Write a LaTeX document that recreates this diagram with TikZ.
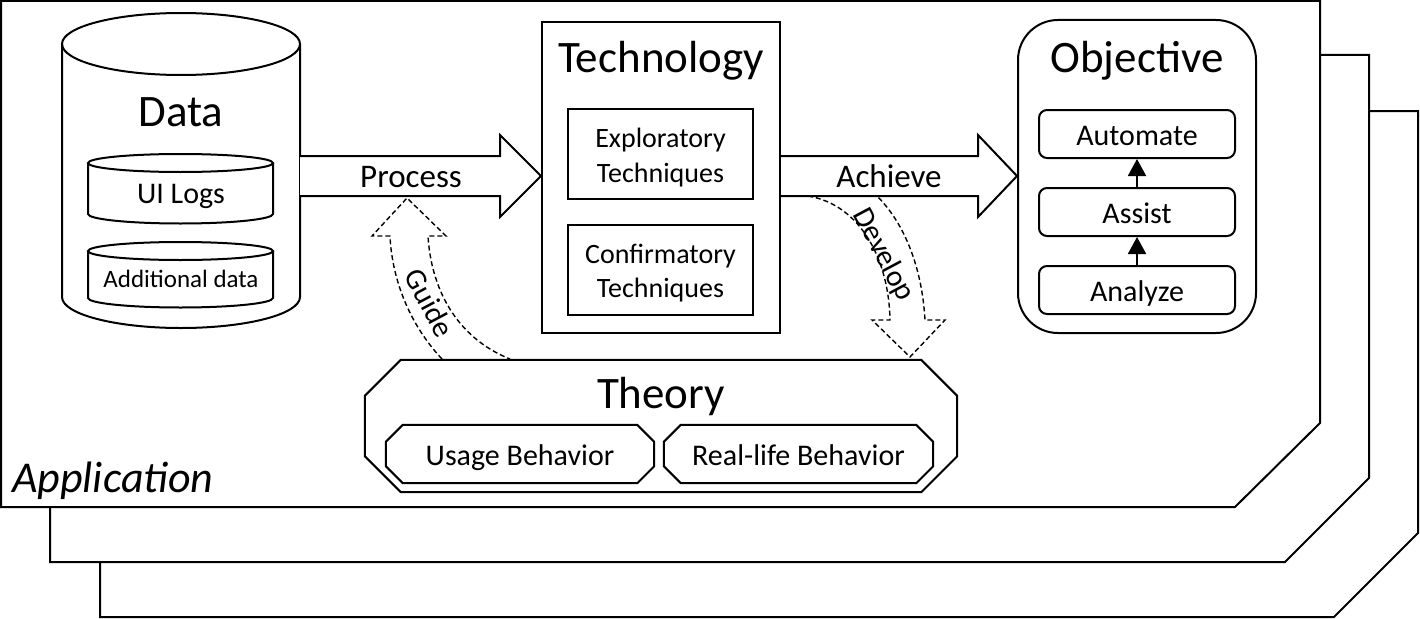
\documentclass[tikz,border=0pt]{standalone}
\usepackage{fontspec}
\setmainfont{Carlito}
\usetikzlibrary{arrows.meta,calc}
\newcommand{\fsz}[1]{\fontsize{#1}{#1}\selectfont}
\newcommand{\octa}[2]{%
  \draw[ln] ([xshift=#2]#1.north west) -- ([xshift=-#2]#1.north east)
    -- ([yshift=-#2]#1.north east) -- ([yshift=#2]#1.south east)
    -- ([xshift=-#2]#1.south east) -- ([xshift=#2]#1.south west)
    -- ([yshift=#2]#1.south west) -- ([yshift=-#2]#1.north west) -- cycle;}
\begin{document}
\begin{tikzpicture}[x=1pt,y=-1pt,line join=miter,
  ln/.style={line width=2pt},
  dsh/.style={line width=1.4pt,dash pattern=on 5pt off 3pt},
  plainbox/.style={draw,ln,inner sep=0pt},
  emptybox/.style={inner sep=0pt},
  lbl/.style={anchor=base,inner sep=0pt},
  title/.style={lbl,font=\fsz{45}},
  txt/.style={lbl,font=\fsz{30}},
  small/.style={lbl,font=\fsz{28}},
  arrowtxt/.style={lbl,font=\fsz{33}},
  rot/.style={inner sep=0pt,font=\fsz{30},rotate=-62}]
\useasboundingbox (0,0) rectangle (1420,618);

% application layers
\draw[ln,fill=white] (100,111) -- (1418,111) -- (1418,533) -- (1334,617) -- (100,617) -- cycle;
\draw[ln,fill=white] (50,55) -- (1369,55) -- (1369,478) -- (1285,562) -- (50,562) -- cycle;
\draw[ln,fill=white] (1,1) -- (1320,1) -- (1320,423) -- (1235,507) -- (1,507) -- cycle;
\node[anchor=base west,inner sep=0pt,font=\fsz{44}\itshape] (app) at (12,492) {Application};

% data cylinder
\draw[ln,fill=white] (62,44) -- (62,297) arc[start angle=180,end angle=360,x radius=119pt,y radius=31pt] -- (300,44);
\draw[ln] (181,44) ellipse [x radius=119pt,y radius=31pt];
\coordinate (datar) at (300,176);
\node[title] (data) at (181,126) {Data};
% UI logs cylinder
\draw[ln,fill=white] (88,163) -- (88,214) arc[start angle=180,end angle=360,x radius=92.5pt,y radius=9.5pt] -- (273,163);
\draw[ln] (180.5,163) ellipse [x radius=92.5pt,y radius=9pt];
\node[txt] (uilogs) at (181,203) {UI Logs};
% additional data cylinder
\draw[ln,fill=white] (88,251) -- (88,298) arc[start angle=180,end angle=360,x radius=92.5pt,y radius=9.5pt] -- (273,251);
\draw[ln] (180.5,251) ellipse [x radius=92.5pt,y radius=9pt];
\node[lbl,font=\fsz{25}] (adddata) at (181,287) {Additional data};

% technology
\node[plainbox,minimum width=238pt,minimum height=311pt] (tech) at (661,177.5) {};
\node[title] (techt) at (661,72) {Technology};
\node[plainbox,minimum width=185pt,minimum height=90pt] (expl) at (660.5,154) {};
\node[small] (explt1) at (660.5,147) {Exploratory};
\node[small] (explt2) at (660.5,182) {Techniques};
\node[plainbox,minimum width=185pt,minimum height=90pt] (conf) at (660.5,270) {};
\node[small] (conft1) at (660.5,263) {Confirmatory};
\node[small] (conft2) at (660.5,297) {Techniques};

% objective
\node[plainbox,rounded corners=40pt,minimum width=238pt,minimum height=313pt] (obj) at (1137,176.5) {};
\node[title] (objt) at (1137,72) {Objective};
\node[plainbox,rounded corners=8pt,minimum width=196pt,minimum height=48pt] (automate) at (1137,134) {};
\node[plainbox,rounded corners=8pt,minimum width=196pt,minimum height=48pt] (assist) at (1137,212) {};
\node[plainbox,rounded corners=8pt,minimum width=196pt,minimum height=48pt] (analyze) at (1137,290) {};
\node[txt] (automatet) at (1137,145) {Automate};
\node[txt] (assistt) at (1137,223) {Assist};
\node[txt] (analyzet) at (1137,301) {Analyze};
\draw[ln,-{Triangle[length=17pt,width=18pt]}] (analyze.north) -- (assist.south);
\draw[ln,-{Triangle[length=17pt,width=18pt]}] (assist.north) -- (automate.south);

% theory
\node[emptybox,minimum width=592pt,minimum height=132pt] (theory) at (661,426) {};
\octa{theory}{36pt}
\node[title] (theoryt) at (661,408) {Theory};
\node[emptybox,minimum width=268pt,minimum height=58pt] (usage) at (520,454) {};
\octa{usage}{17pt}
\node[txt] (usaget) at (520,465) {Usage Behavior};
\node[emptybox,minimum width=269pt,minimum height=58pt] (reallife) at (798.5,454) {};
\octa{reallife}{17pt}
\node[txt] (reallifet) at (798.5,465) {Real-life Behavior};

% process arrow
\draw[ln,fill=white] (datar |- 0,156) -- (500,156) -- (500,135) -- (tech.west |- 0,176) -- (500,217) -- (500,196) -- (datar |- 0,196);
\node[arrowtxt] (proc) at (411,187) {Process};
% achieve arrow
\draw[ln,fill=white] (tech.east |- 0,156) -- (978,156) -- (978,135) -- (obj.west |- 0,176) -- (978,217) -- (978,196) -- (tech.east |- 0,196);
\node[arrowtxt] (achieve) at (889,187) {Achieve};

% guide arrow
\draw[dsh] (442,359) .. controls (410,325) and (392,280) .. (390,236) -- (372,236) -- (407,198) -- (446,236) -- (428,236) .. controls (431,287) and (455,337) .. (510,359);
\node[rot] (guide) at (430,303) {Guide};
% develop arrow
\draw[dsh] (808,196) .. controls (862,205) and (889,262) .. (890,320) -- (872,320) -- (910,357) -- (945,320) -- (925,320) .. controls (922,268) and (905,224) .. (877,196);
\node[rot] (develop) at (883,255) {Develop};
\end{tikzpicture}
\end{document}
